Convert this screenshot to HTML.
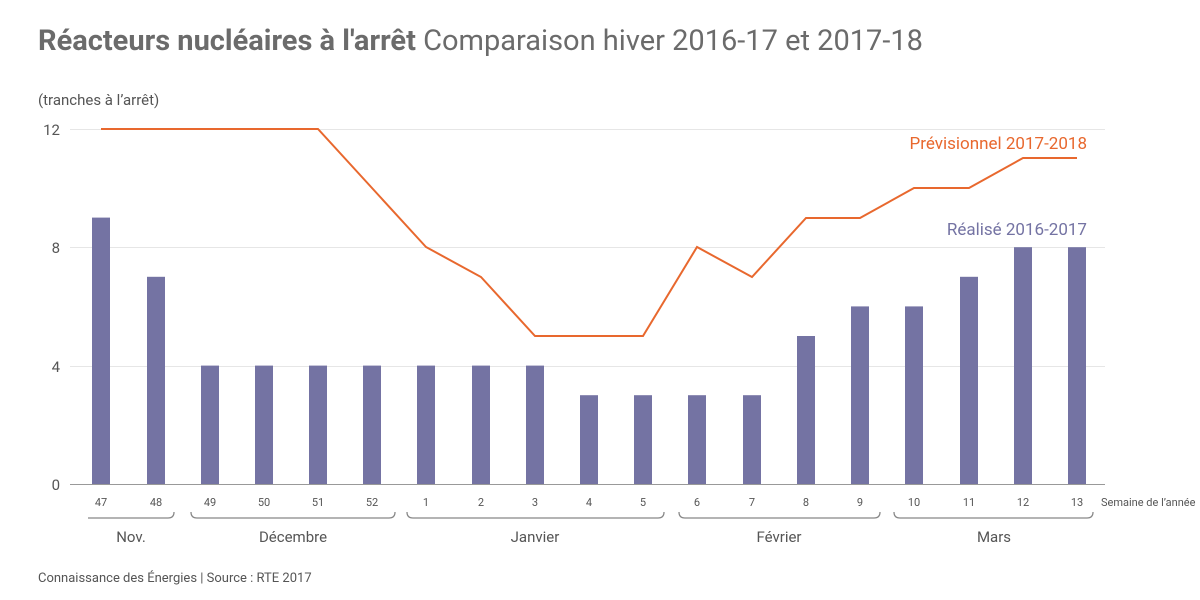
<!DOCTYPE html>
<html><head><meta charset="utf-8"><style>
body{margin:0;background:#fff;width:1200px;height:600px;overflow:hidden}
svg{display:block;font-family:"Roboto","Liberation Sans",sans-serif}
</style></head><body>
<svg width="1200" height="600" viewBox="0 0 1200 600">
<text x="38" y="50" font-size="29" fill="#6b6b6b"><tspan font-weight="bold">Réacteurs nucléaires à l'arrêt</tspan> Comparaison hiver 2016-17 et 2017-18</text>
<text x="38" y="105" font-size="15" fill="#555">(tranches à l’arrêt)</text>
<g stroke="#e6e6e6" stroke-width="1">
<line x1="70" y1="129.5" x2="1105" y2="129.5"/>
<line x1="70" y1="247.5" x2="1105" y2="247.5"/>
<line x1="70" y1="366.5" x2="1105" y2="366.5"/>
</g>
<g font-size="15" fill="#555" text-anchor="end">
<text x="60" y="135">12</text><text x="60" y="253">8</text><text x="60" y="372">4</text><text x="60" y="490">0</text>
</g>
<g fill="#7473a3" id="bars"></g>
<line x1="70" y1="484.5" x2="1105" y2="484.5" stroke="#999" stroke-width="1"/>
<polyline fill="none" stroke="#e8682e" stroke-width="2" points="101,129 318,129 372,188 426,247 481,277 535,336 643,336 697,247 752,277 806,218 860,218 914,188 969,188 1023,158 1077,158"/>
<text x="1087" y="149" font-size="17" fill="#e8682e" text-anchor="end">Prévisionnel 2017-2018</text>
<text x="1087" y="235" font-size="17" fill="#7473a3" text-anchor="end">Réalisé 2016-2017</text>
<g id="ticks" font-size="11" fill="#555" text-anchor="middle"></g>
<text x="1101" y="506" font-size="11" fill="#555">Semaine de l’année</text>
<g fill="none" stroke="#888" stroke-width="1.3">
<path d="M88,518 H168 Q174,518 174,512"/>
<path d="M191,512 Q191,518 197,518 H389 Q395,518 395,512"/>
<path d="M407,512 Q407,518 413,518 H658 Q664,518 664,512"/>
<path d="M679,512 Q679,518 685,518 H874 Q880,518 880,512"/>
<path d="M894,512 Q894,518 900,518 H1087 Q1093,518 1093,512"/>
</g>
<g font-size="15" fill="#555" text-anchor="middle">
<text x="131" y="542">Nov.</text><text x="293" y="542">Décembre</text><text x="535" y="542">Janvier</text><text x="779" y="542">Février</text><text x="994" y="542">Mars</text>
</g>
<text x="38" y="582" font-size="13" fill="#555">Connaissance des Énergies | Source : RTE 2017</text>
</svg>
<script>
var xs=[101,156,210,264,318,372,426,481,535,589,643,697,752,806,860,914,969,1023,1077];
var v=[9,7,4,4,4,4,4,4,4,3,3,3,3,5,6,6,7,8,8];
var w=["47","48","49","50","51","52","1","2","3","4","5","6","7","8","9","10","11","12","13"];
var ns="http://www.w3.org/2000/svg",b=document.getElementById("bars"),t=document.getElementById("ticks");
xs.forEach(function(x,i){var r=document.createElementNS(ns,"rect");var h=v[i]*29.6;
r.setAttribute("x",x-9);r.setAttribute("y",484-h);r.setAttribute("width",18);r.setAttribute("height",h);b.appendChild(r);
var s=document.createElementNS(ns,"text");s.setAttribute("x",x);s.setAttribute("y",506);s.textContent=w[i];t.appendChild(s);});
</script>
</body></html>
